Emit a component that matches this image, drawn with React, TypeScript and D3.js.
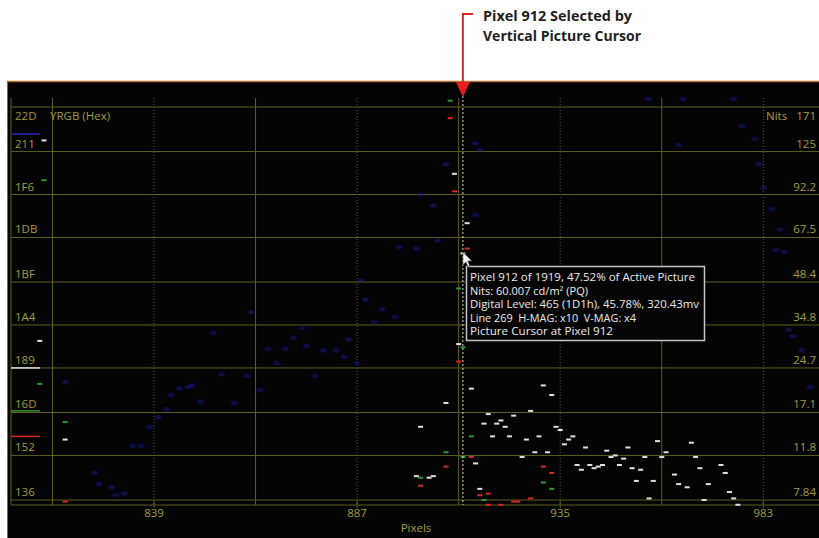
import React from "react";
import * as d3 from "d3";

// ---- data ----
const xTicks = [839, 887, 935, 983];
const xMidGrid = [815, 863, 911, 959];
const levelTicks = ["22D", "211", "1F6", "1DB", "1BF", "1A4", "189", "16D", "152", "136"];
const nitsTicks = ["171", "125", "92.2", "67.5", "48.4", "34.8", "24.7", "17.1", "11.8", "7.84"];
const cursorPixel = 912;

// [pixel, digital level]
const lumaY: [number, number][] = [
  [812, 410], [813, 536], [818, 348],
  [901, 325], [904, 324], [905, 325], [902, 356], [908, 371], [910, 515], [911, 408],
  [912, 465], [913, 484], [914, 380], [915, 333], [916, 317],
  [917, 358], [918, 364], [919, 350], [920, 358], [921, 360], [922, 356], [923, 350],
  [924, 363], [926, 337], [927, 348], [928, 366], [929, 340], [930, 350], [931, 382],
  [932, 340], [933, 376], [934, 356], [935, 354], [936, 345], [937, 348], [938, 350],
  [939, 332], [940, 329], [941, 343], [942, 332], [943, 330], [944, 331], [945, 332],
  [946, 341], [947, 337], [948, 338], [949, 332], [950, 336], [951, 343], [952, 330],
  [953, 322], [954, 329], [955, 337], [956, 311], [957, 322], [958, 347], [959, 337],
  [960, 340], [962, 326], [963, 320], [965, 318], [966, 346], [967, 337], [968, 330],
  [969, 310], [970, 320], [973, 332], [974, 327], [975, 315], [976, 311], [977, 307],
];
const chanR: [number, number][] = [
  [818, 309], [902, 319], [908, 331], [909, 550], [910, 504], [911, 397], [913, 468],
  [914, 337], [916, 313], [918, 314], [918, 307], [921, 307], [924, 309], [925, 309],
  [928, 311], [931, 331], [933, 327],
];
const chanG: [number, number][] = [
  [812, 383], [813, 511], [818, 359], [902, 324], [908, 340], [909, 561], [911, 443],
  [912, 406], [912, 337], [914, 350], [917, 310], [931, 321], [933, 317],
];
const chanB: [number, number][] = [
  [818, 384], [825, 327], [826, 320], [829, 318], [830, 313], [832, 314], [834, 344],
  [836, 344], [838, 356], [840, 362], [842, 367], [843, 376], [845, 380], [847, 381],
  [848, 382], [850, 372], [853, 415], [855, 389], [858, 371], [861, 388], [862, 428],
  [864, 379], [866, 405], [868, 396], [870, 405], [872, 412], [874, 418], [875, 407],
  [877, 388], [879, 404], [882, 404], [884, 400], [885, 411], [887, 396], [888, 448],
  [889, 436], [891, 422], [893, 430], [896, 425], [897, 469], [901, 468], [902, 502],
  [905, 495], [906, 473], [908, 521], [915, 534], [916, 530], [915, 489],
  [956, 562], [963, 533], [964, 562], [976, 562], [978, 545], [981, 537], [982, 521],
  [983, 506], [985, 493], [986, 467], [987, 480], [988, 466], [989, 417], [990, 413],
  [992, 404], [994, 381],
];
// channel level markers on the left scale
const levelMarkers: { ch: string; level: number }[] = [
  { ch: "B", level: 540 },
  { ch: "Y", level: 393 },
  { ch: "G", level: 366 },
  { ch: "R", level: 350 },
];
const tooltipLines = [
  "Pixel 912 of 1919, 47.52% of Active Picture",
  "Nits: 60.007 cd/m² (PQ)",
  "Digital Level: 465 (1D1h), 45.78%, 320.43mv",
  "Line 269\u00a0\u00a0H-MAG: x10\u00a0\u00a0V-MAG: x4",
  "Picture Cursor at Pixel 912",
];
const headingLines = ["Pixel 912 Selected by", "Vertical Picture Cursor"];

// ---- styles ----
const W = 819;
const H = 538;
const GRID = "#5f5f1e";
const LABEL = "#a39d3c";
const COLORS: Record<string, string> = {
  Y: "#e0e0e0",
  R: "#d42a22",
  G: "#2e9a30",
  B: "#1c1c96",
};
const FONT = "'Open Sans', 'DejaVu Sans', sans-serif";

export default function App() {
  const x = d3.scaleLinear().domain([839, 983]).range([154, 763.3]);
  const y = d3.scaleLinear().domain([310, 557]).range([500, 107]);
  const hex = (h: string) => parseInt(h, 16);
  const plotLeft = 11;
  const plotRight = W;
  const plotBottom = 505;
  const cx = x(cursorPixel);

  const dash = (d: [number, number], ch: string, i: number) => {
    const w = ch === "B" ? 6 : 5;
    const h = ch === "B" ? 3 : 2;
    return (
      <rect
        key={ch + i}
        x={x(d[0]) - w / 2}
        y={y(d[1]) - h / 2}
        width={w}
        height={h}
        fill={COLORS[ch]}
        opacity={ch === "B" ? 0.7 : 1}
      />
    );
  };

  return (
    <div style={{ position: "absolute", left: 0, top: 0, width: W, height: H }}>
      <svg width={W} height={H} style={{ display: "block", background: "#fff" }}>
        <defs>
          <filter id="soft" x="-10%" y="-10%" width="120%" height="120%">
            <feGaussianBlur stdDeviation="0.6" />
          </filter>
          <filter id="softB" x="-10%" y="-10%" width="120%" height="120%">
            <feGaussianBlur stdDeviation="1" />
          </filter>
        </defs>

        {/* heading annotation */}
        {headingLines.map((t, i) => (
          <text
            key={t}
            x={483}
            y={21 + i * 20}
            fontFamily={FONT}
            fontWeight={700}
            fontSize={13.5}
            fill="#1e1e1e"
            textLength={i === 0 ? 149 : 158}
            lengthAdjust="spacingAndGlyphs"
          >
            {t}
          </text>
        ))}

        {/* panel */}
        <rect x={7} y={81} width={W - 7} height={H - 81} fill="#030303" />
        <line x1={7} x2={W} y1={81.5} y2={81.5} stroke="#b8742e" strokeWidth={1.5} />
        <line x1={7.5} x2={7.5} y1={81} y2={H} stroke="#8a6a28" strokeWidth={1} />

        {/* horizontal grid */}
        {levelTicks.map((t) => (
          <line
            key={"h" + t}
            x1={plotLeft}
            x2={plotRight}
            y1={y(hex(t))}
            y2={y(hex(t))}
            stroke={GRID}
            strokeWidth={1}
          />
        ))}
        <line x1={plotLeft} x2={plotRight} y1={plotBottom} y2={plotBottom} stroke={GRID} />
        <line x1={plotLeft} x2={plotLeft} y1={98} y2={plotBottom} stroke={GRID} />

        {/* vertical grid */}
        {xMidGrid.map((p) => (
          <line key={"vm" + p} x1={x(p)} x2={x(p)} y1={98} y2={plotBottom} stroke={GRID} />
        ))}
        {xTicks.map((p) => (
          <g key={"vt" + p}>
            <line
              x1={x(p)}
              x2={x(p)}
              y1={98}
              y2={plotBottom}
              stroke={GRID}
              strokeDasharray="1 2"
            />
            <line x1={x(p)} x2={x(p)} y1={plotBottom - 4} y2={plotBottom + 3} stroke={GRID} />
          </g>
        ))}

        {/* level markers on left scale */}
        {levelMarkers.map((m) => (
          <line
            key={"lm" + m.ch}
            x1={plotLeft}
            x2={40}
            y1={y(m.level)}
            y2={y(m.level)}
            stroke={COLORS[m.ch]}
            strokeWidth={m.ch === "B" ? 2 : 1.5}
          />
        ))}

        {/* axis labels */}
        {levelTicks.map((t, i) => (
          <text
            key={"lt" + t}
            x={15}
            y={i === 0 ? y(hex(t)) + 13 : y(hex(t)) - 4}
            fontFamily={FONT}
            fontSize={11.5}
            fill={LABEL}
          >
            {t}
          </text>
        ))}
        {nitsTicks.map((t, i) => (
          <text
            key={"nt" + t}
            x={816}
            y={i === 0 ? y(hex(levelTicks[i])) + 13 : y(hex(levelTicks[i])) - 4}
            textAnchor="end"
            fontFamily={FONT}
            fontSize={11.5}
            fill={LABEL}
          >
            {t}
          </text>
        ))}
        <text x={50} y={y(hex("22D")) + 13} fontFamily={FONT} fontSize={11.5} fill={LABEL}>
          YRGB (Hex)
        </text>
        <text x={766} y={y(hex("22D")) + 13} fontFamily={FONT} fontSize={11.5} fill={LABEL}>
          Nits
        </text>
        {xTicks.map((p) => (
          <text
            key={"xl" + p}
            x={x(p)}
            y={517}
            textAnchor="middle"
            fontFamily={FONT}
            fontSize={11.5}
            fill={LABEL}
          >
            {p}
          </text>
        ))}
        <text x={416} y={532} textAnchor="middle" fontFamily={FONT} fontSize={11.5} fill={LABEL}>
          Pixels
        </text>

        {/* data */}
        <g filter="url(#softB)">{chanB.map((d, i) => dash(d, "B", i))}</g>
        <g filter="url(#soft)">
          {chanR.map((d, i) => dash(d, "R", i))}
          {chanG.map((d, i) => dash(d, "G", i))}
          {lumaY.map((d, i) => dash(d, "Y", i))}
        </g>

        {/* picture cursor */}
        <line
          x1={cx}
          x2={cx}
          y1={96}
          y2={plotBottom}
          stroke="#d8d8d8"
          strokeWidth={1}
          strokeDasharray="2 2"
        />

        {/* tooltip */}
        <rect
          x={466.5}
          y={266.5}
          width={238}
          height={74}
          fill="#040404"
          stroke="#c4c4c4"
          strokeWidth={1.5}
        />
        {tooltipLines.map((t, i) => (
          <text
            key={"tt" + i}
            x={470}
            y={281 + i * 13.6}
            fontFamily={FONT}
            fontSize={11}
            fill="#ececec"
            textLength={[225, 118, 229, 166, 143][i]}
            lengthAdjust="spacingAndGlyphs"
          >
            {t}
          </text>
        ))}

        {/* mouse pointer */}
        <path
          d={`M${cx},252 l0,13 l3,-3 l2,5 l2,-1 l-2,-5 l4,0 z`}
          fill="#f4f4f4"
          stroke="#222"
          strokeWidth={0.6}
        />

        {/* red annotation arrow */}
        <path
          d={`M${cx + 10},14 L${cx},14 L${cx},84`}
          fill="none"
          stroke="#e02222"
          strokeWidth={2}
        />
        <path d={`M${cx - 7},82 L${cx + 7},82 L${cx},97 Z`} fill="#e81e1e" />
      </svg>
    </div>
  );
}
